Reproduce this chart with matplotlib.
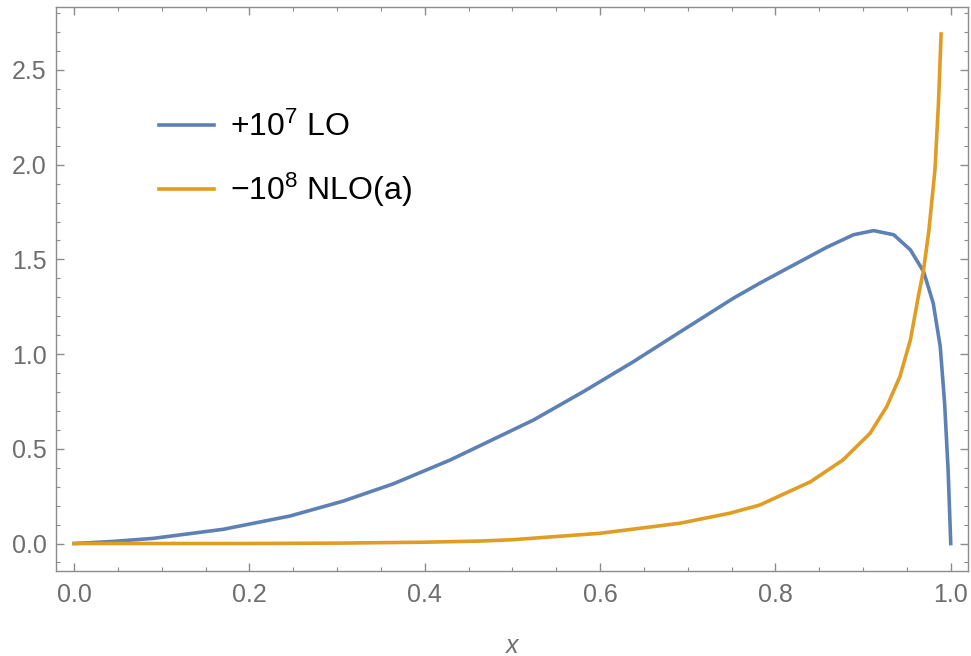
import matplotlib.pyplot as plt
from matplotlib.ticker import MultipleLocator

plt.rcParams['font.family'] = ['Liberation Sans', 'DejaVu Sans']
plt.rcParams['mathtext.fontset'] = 'custom'
plt.rcParams['mathtext.rm'] = 'Liberation Sans'
plt.rcParams['mathtext.it'] = 'Liberation Sans:italic'

# values
x_lo = [0.0, 0.041, 0.090, 0.170, 0.246, 0.307, 0.364, 0.429, 0.524,
        0.581, 0.638, 0.695, 0.752, 0.782, 0.821, 0.859, 0.889, 0.912, 0.935,
        0.954, 0.969, 0.980, 0.988, 0.993, 0.997, 1.0]
y_lo = [0.0, 0.010, 0.027, 0.075, 0.145, 0.224, 0.315, 0.441, 0.652,
        0.802, 0.960, 1.128, 1.295, 1.374, 1.471, 1.565, 1.630, 1.652, 1.630,
        1.550, 1.436, 1.269, 1.040, 0.741, 0.388, 0.0]

x_nlo = [0.0, 0.2, 0.3, 0.4, 0.463, 0.5, 0.6, 0.691, 0.748, 0.782, 0.840,
         0.877, 0.908, 0.927, 0.942, 0.954, 0.963, 0.969, 0.975, 0.982, 0.986,
         0.989]
y_nlo = [0.0, 0.0, 0.002, 0.007, 0.013, 0.020, 0.054, 0.107, 0.160, 0.203,
         0.326, 0.441, 0.582, 0.723, 0.881, 1.075, 1.304, 1.445, 1.650, 1.973,
         2.325, 2.690]

labels = [r'$+10^7$ LO', r'$-10^8$ NLO(a)']

fig = plt.figure(figsize=(9.71, 6.56), dpi=100)
ax = fig.add_axes([0.0574, 0.1296, 0.9398, 0.859])

ax.plot(x_lo, y_lo, color='#5E81B5', lw=2.6, label=labels[0])
ax.plot(x_nlo, y_nlo, color='#E19C24', lw=2.6, label=labels[1])

ax.set_xlim(-0.021, 1.020)
ax.set_ylim(-0.145, 2.83)

ax.xaxis.set_major_locator(MultipleLocator(0.2))
ax.xaxis.set_minor_locator(MultipleLocator(0.05))
ax.yaxis.set_major_locator(MultipleLocator(0.5))
ax.yaxis.set_minor_locator(MultipleLocator(0.1))
ax.xaxis.set_major_formatter(lambda v, p: f'{v:.1f}')
ax.yaxis.set_major_formatter(lambda v, p: f'{v:.1f}')

gray = '#6e6e6e'
for s in ax.spines.values():
    s.set_color('#8c8c8c')
    s.set_linewidth(1.0)
ax.tick_params(which='both', direction='in', top=True, right=True,
               color='#8c8c8c', labelcolor=gray, labelsize=18)
ax.tick_params(which='major', length=6, width=1.0)
ax.tick_params(which='minor', length=3, width=0.8)
ax.tick_params(axis='x', which='major', pad=9)
ax.tick_params(axis='y', which='major', pad=6.5)

ax.set_xlabel('$x$', color=gray, fontsize=18, labelpad=19)

ax.legend(loc='upper left', bbox_to_anchor=(0.082, 0.866), frameon=False,
          fontsize=23, handlelength=1.7, handletextpad=0.5, labelspacing=0.88)

fig.savefig('out.png', dpi=100)
